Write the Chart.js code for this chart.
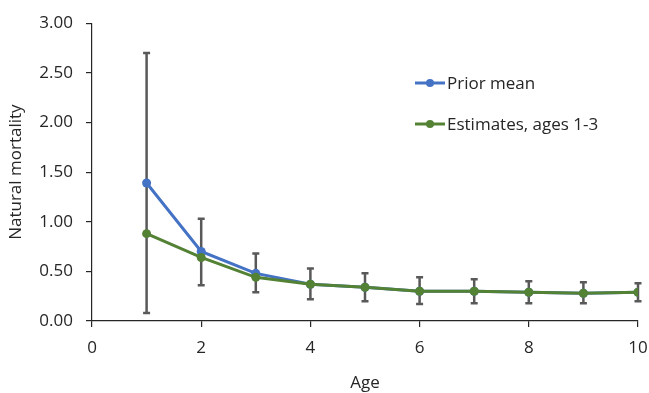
<!DOCTYPE html>
<html>
<head>
<meta charset="utf-8">
<script src="https://cdn.jsdelivr.net/npm/chart.js@4"></script>
<style>
  html, body { margin: 0; padding: 0; background: #fff; }
  #wrap { width: 649px; height: 393px; }
</style>
</head>
<body>
<div id="wrap"><canvas id="chart" width="649" height="393"></canvas></div>
<script>
var ages = [1, 2, 3, 4, 5, 6, 7, 8, 9, 10];
var priorMean = [1.39, 0.70, 0.48, 0.37, 0.34, 0.30, 0.30, 0.29, 0.28, 0.29];
var estimates = [0.88, 0.64, 0.44, 0.37, 0.34, 0.30, 0.30, 0.29, 0.28, 0.29];
var errLow = [0.08, 0.36, 0.29, 0.22, 0.20, 0.17, 0.18, 0.18, 0.18, 0.20];
var errHigh = [2.70, 1.03, 0.68, 0.53, 0.48, 0.44, 0.42, 0.40, 0.39, 0.38];

var blue = '#4472C4';
var green = '#548235';
var fontFamily = '"Open Sans", Lato, sans-serif';
var textColor = '#262626';

function toPoints(values) {
    return ages.map(function (a, i) { return { x: a, y: values[i] }; });
}

// error bars on the estimates, drawn under the points
var errorBars = {
    id: 'errorBars',
    beforeDatasetsDraw: function (chart) {
        var ctx = chart.ctx;
        var xs = chart.scales.x;
        var ys = chart.scales.y;
        ctx.save();
        ctx.strokeStyle = '#595959';
        ctx.lineWidth = 2.5;
        for (var i = 0; i < ages.length; i++) {
            var px = xs.getPixelForValue(ages[i]);
            var top = ys.getPixelForValue(errHigh[i]);
            var bot = ys.getPixelForValue(errLow[i]);
            ctx.beginPath();
            ctx.moveTo(px, top);
            ctx.lineTo(px, bot);
            ctx.moveTo(px - 3.5, top);
            ctx.lineTo(px + 3.5, top);
            ctx.moveTo(px - 3.5, bot);
            ctx.lineTo(px + 3.5, bot);
            ctx.stroke();
        }
        ctx.restore();
    }
};

// legend inside the plot area, Excel style
var insideLegend = {
    id: 'insideLegend',
    afterDraw: function (chart) {
        var ctx = chart.ctx;
        var x0 = 415, rowY = [83, 124];
        ctx.save();
        ctx.font = '17px ' + fontFamily;
        ctx.textBaseline = 'middle';
        chart.data.datasets.forEach(function (ds, i) {
            var y = rowY[i];
            ctx.strokeStyle = ds.borderColor;
            ctx.lineWidth = 3;
            ctx.beginPath();
            ctx.moveTo(x0, y);
            ctx.lineTo(x0 + 30, y);
            ctx.stroke();
            ctx.fillStyle = ds.borderColor;
            ctx.beginPath();
            ctx.arc(x0 + 15, y, 4, 0, Math.PI * 2);
            ctx.fill();
            ctx.fillStyle = textColor;
            ctx.fillText(ds.label, x0 + 32, y + 1);
        });
        ctx.restore();
    }
};

new Chart(document.getElementById('chart'), {
    type: 'line',
    data: {
        datasets: [{
            label: 'Prior mean',
            data: toPoints(priorMean),
            borderColor: blue,
            backgroundColor: blue,
            borderWidth: 3,
            pointRadius: 4.5,
            pointBorderWidth: 0,
            order: 2
        }, {
            label: 'Estimates, ages 1-3',
            data: toPoints(estimates),
            borderColor: green,
            backgroundColor: green,
            borderWidth: 3,
            pointRadius: 4.5,
            pointBorderWidth: 0,
            order: 1
        }]
    },
    options: {
        responsive: false,
        animation: false,
        layout: { padding: { left: 6, right: 0, top: 20, bottom: 0 } },
        plugins: {
            legend: { display: false },
            tooltip: { enabled: false }
        },
        scales: {
            x: {
                type: 'linear',
                min: 0,
                max: 10,
                ticks: { stepSize: 2, color: textColor, font: { family: fontFamily, size: 17 }, padding: 11, maxRotation: 0 },
                grid: { drawOnChartArea: false, tickLength: 6, color: textColor, lineWidth: 1.2 },
                border: { color: textColor, width: 1.2 },
                title: { display: true, text: 'Age', color: textColor, font: { family: fontFamily, size: 17 }, padding: { top: 6, bottom: 0 } },
                afterFit: function (s) { s.height = 72; s.paddingRight = 11; }
            },
            y: {
                min: 0,
                max: 3,
                ticks: {
                    stepSize: 0.5,
                    color: textColor,
                    font: { family: fontFamily, size: 17 },
                    padding: 13,
                    callback: function (v) { return v.toFixed(2); }
                },
                grid: { drawOnChartArea: false, tickLength: 6, color: textColor, lineWidth: 1.2 },
                border: { color: textColor, width: 1.2 },
                title: { display: true, text: 'Natural mortality', color: textColor, font: { family: fontFamily, size: 17 }, padding: { top: 0, bottom: 6 } },
                afterFit: function (s) { s.width = 86; }
            }
        }
    },
    plugins: [errorBars, insideLegend]
});
</script>
</body>
</html>
